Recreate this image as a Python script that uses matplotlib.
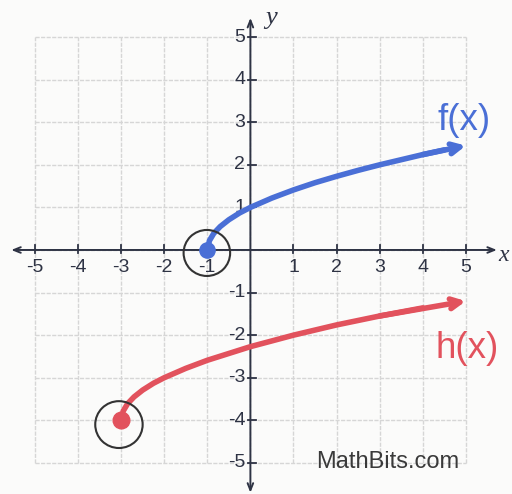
import matplotlib
matplotlib.use("Agg")
import matplotlib.pyplot as plt
from matplotlib.patches import Circle

# ---- data ----
ticks = [-5, -4, -3, -2, -1, 1, 2, 3, 4, 5]
tick_labels = ["-5", "-4", "-3", "-2", "-1", "1", "2", "3", "4", "5"]

f_x = [-1, -0.95, -0.85, -0.7, -0.5, -0.25, 0, 0.5, 1, 1.5, 2, 2.5, 3, 3.5, 4, 4.5, 5]
f_y = [0, 0.22, 0.39, 0.55, 0.71, 0.87, 1.0, 1.22, 1.41, 1.58, 1.73, 1.87, 2.0, 2.12, 2.24, 2.35, 2.45]

h_x = [-3, -2.95, -2.85, -2.7, -2.5, -2.25, -2, -1.5, -1, 0, 1, 2, 3, 4, 5]
h_y = [-4, -3.78, -3.61, -3.45, -3.29, -3.13, -3.0, -2.78, -2.59, -2.27, -2.0, -1.76, -1.55, -1.36, -1.2]

BLUE = "#4a6fd6"
RED = "#e2525d"
INK = "#2e3344"
GRID = "#d6d6d6"

fig = plt.figure(figsize=(5.12, 4.94), dpi=100)
fig.patch.set_facecolor("#fbfbfa")
ax = fig.add_axes([0, 0, 1, 1])
ax.set_facecolor("#fbfbfa")
ax.set_xlim(-5.81, 6.07)
ax.set_ylim(-5.73, 5.87)
ax.axis("off")

# grid
for v in range(-5, 6):
    ax.plot([v, v], [-5, 5], color=GRID, lw=1.0, ls=(0, (3, 1)), zorder=1)
    ax.plot([-5, 5], [v, v], color=GRID, lw=1.0, ls=(0, (3, 1)), zorder=1)

# axes with arrows
ax.annotate("", xy=(5.72, 0), xytext=(-5.55, 0),
            arrowprops=dict(arrowstyle="<->,head_length=0.5,head_width=0.2", color=INK, lw=1.4,
                            shrinkA=0, shrinkB=0), zorder=2)
ax.annotate("", xy=(0, 5.45), xytext=(0, -5.7),
            arrowprops=dict(arrowstyle="<->,head_length=0.5,head_width=0.2", color=INK, lw=1.4,
                            shrinkA=0, shrinkB=0), zorder=2)

# tick marks
for t in ticks:
    ax.plot([t, t], [-0.06, 0.12], color=INK, lw=1.3, zorder=2)
for t in range(-5, 6):
    if t != 0:
        ax.plot([-0.06, 0.12], [t, t], color=INK, lw=1.3, zorder=2)

# tick labels
for t, lab in zip(ticks, tick_labels):
    ax.text(t, -0.42, lab, ha="center", va="center", fontsize=14,
            family="Liberation Sans", color=INK, zorder=3)
    ax.text(-0.12, t, lab, ha="right", va="center", fontsize=14,
            family="Liberation Sans", color=INK, zorder=3)

# axis names
ax.text(5.88, -0.12, "x", ha="center", va="center", fontsize=17,
        family="Liberation Serif", style="italic", color=INK)
ax.text(0.48, 5.45, "y", ha="center", va="center", fontsize=19,
        family="Liberation Serif", style="italic", color=INK)

# curves
ax.plot(f_x[:-1], f_y[:-1], color=BLUE, lw=4, solid_capstyle="round", zorder=4)
ax.annotate("", xy=(f_x[-1], f_y[-1]), xytext=(f_x[-3], f_y[-3]),
            arrowprops=dict(arrowstyle="->,head_length=0.7,head_width=0.35", color=BLUE, lw=4,
                            shrinkA=0, shrinkB=0), zorder=4)
ax.plot(h_x[:-1], h_y[:-1], color=RED, lw=4, solid_capstyle="round", zorder=4)
ax.annotate("", xy=(h_x[-1], h_y[-1]), xytext=(h_x[-3], h_y[-3]),
            arrowprops=dict(arrowstyle="->,head_length=0.7,head_width=0.35", color=RED, lw=4,
                            shrinkA=0, shrinkB=0), zorder=4)

# endpoints
ax.plot(f_x[0], f_y[0], "o", color=BLUE, ms=11, zorder=5)
ax.plot(h_x[0], h_y[0], "o", color=RED, ms=12, zorder=5)

# hand-drawn circles
ax.add_patch(Circle((f_x[0] - 0.01, f_y[0] - 0.07), 0.54, fill=False, ec="#333333", lw=1.5, zorder=5))
ax.add_patch(Circle((h_x[0] - 0.05, h_y[0] - 0.1), 0.55, fill=False, ec="#333333", lw=1.5, zorder=5))

# labels
ax.text(4.95, 3.03, "f(x)", ha="center", va="center", fontsize=26.5,
        family="Liberation Sans", color=BLUE, zorder=6)
ax.text(5.02, -2.32, "h(x)", ha="center", va="center", fontsize=26.5,
        family="Liberation Sans", color=RED, zorder=6)
ax.text(3.19, -4.98, "MathBits.com", ha="center", va="center", fontsize=17,
        family="Liberation Sans", color="#3a3a3a", zorder=6)

fig.savefig("out.png", dpi=100, facecolor=fig.get_facecolor())
